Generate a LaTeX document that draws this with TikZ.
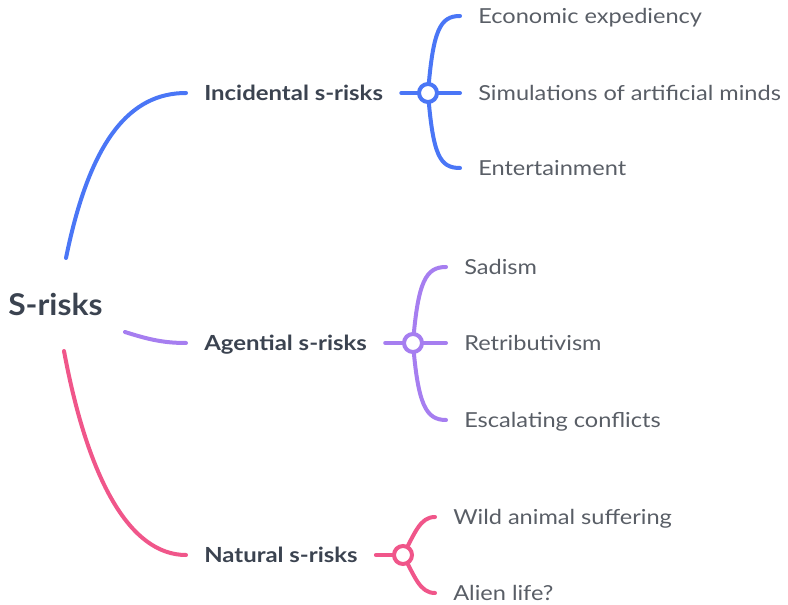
\documentclass[tikz,border=0pt]{standalone}
\usepackage{fontspec}
\setmainfont{Lato}
\newfontfamily\leaffont[FakeStretch=1.14]{Lato}
\newfontfamily\midfont[FakeStretch=1.15]{Lato}
\newfontfamily\rootfont[FakeStretch=1.06]{Lato}
\begin{document}
\definecolor{incblue}{HTML}{4A76F6}
\definecolor{agpurple}{HTML}{A67EF0}
\definecolor{natpink}{HTML}{F0568A}
\definecolor{titletext}{HTML}{3B4350}
\definecolor{leaftext}{HTML}{595E66}
\begin{tikzpicture}[x=0.75pt,y=-0.75pt,
  branch/.style={line width=3pt,line cap=round},
  roottext/.style={inner sep=0pt,text=titletext,font=\rootfont\fontsize{22.5}{27}\selectfont\bfseries,
    text height=16.1pt,text depth=0pt},
  midtext/.style={inner xsep=13.5pt,inner ysep=0pt,text=titletext,
    font=\midfont\fontsize{15.6}{19}\selectfont\bfseries,text height=11.2pt,text depth=0pt},
  leaftxt/.style={inner xsep=13.5pt,inner ysep=0pt,text=leaftext,
    font=\leaffont\fontsize{15.5}{19}\selectfont,text height=11.1pt,text depth=0pt,anchor=west},
  hub/.style={circle,draw=#1,fill=white,line width=3pt,minimum size=13.5pt,inner sep=0pt}]
\useasboundingbox (0,0) rectangle (788,605);

% central topic and where its three branches leave it
\node[roottext,anchor=west] (root) at (8,305) {S-risks};
\coordinate (rootInc) at (66,258);
\coordinate (rootAg)  at (125,332);
\coordinate (rootNat) at (64,351);

% main topics
\node[midtext,anchor=west] (inc) at (186,93)  {Incidental s-risks};
\node[midtext,anchor=west] (ag)  at (186,343) {Agential s-risks};
\node[midtext,anchor=west] (nat) at (186,555) {Natural s-risks};

% hub positions
\coordinate (hubInc) at (428,93);
\coordinate (hubAg)  at (413,343);
\coordinate (hubNat) at (403,555);

% leaves
\node[leaftxt] (econ) at (460,16)  {Economic expediency};
\node[leaftxt] (sim)  at (460,93)  {Simulations of artificial minds};
\node[leaftxt] (ent)  at (460,168) {Entertainment};
\node[leaftxt] (sad)  at (446,267) {Sadism};
\node[leaftxt] (ret)  at (446,343) {Retributivism};
\node[leaftxt] (esc)  at (446,420) {Escalating conflicts};
\node[leaftxt] (wild) at (435,517) {Wild animal suffering};
\node[leaftxt] (alien) at (435,593) {Alien life?};

% root to main topics
\draw[branch,incblue] (rootInc) .. controls +(24,-118) and +(-56,0) .. (inc.west);
\draw[branch,agpurple] (rootAg) .. controls +(25,8) and +(-21,0) .. (ag.west);
\draw[branch,natpink] (rootNat) .. controls +(24,129) and +(-56,0) .. (nat.west);

% incidental branch
\draw[branch,incblue] (inc.east) -- (hubInc) -- (sim.west);
\draw[branch,incblue] (hubInc) .. controls +(5,-63) and +(-20,0) .. (econ.west);
\draw[branch,incblue] (hubInc) .. controls +(5,63) and +(-20,0) .. (ent.west);
\node[hub=incblue] (hubIncC) at (hubInc) {};

% agential branch
\draw[branch,agpurple] (ag.east) -- (hubAg) -- (ret.west);
\draw[branch,agpurple] (hubAg) .. controls +(5,-62) and +(-20,0) .. (sad.west);
\draw[branch,agpurple] (hubAg) .. controls +(5,62) and +(-20,0) .. (esc.west);
\node[hub=agpurple] (hubAgC) at (hubAg) {};

% natural branch
\draw[branch,natpink] (nat.east) -- (hubNat);
\draw[branch,natpink] (hubNat) .. controls +(12,-22) and +(-15,0) .. (wild.west);
\draw[branch,natpink] (hubNat) .. controls +(12,22) and +(-15,0) .. (alien.west);
\node[hub=natpink] (hubNatC) at (hubNat) {};
\end{tikzpicture}
\end{document}
